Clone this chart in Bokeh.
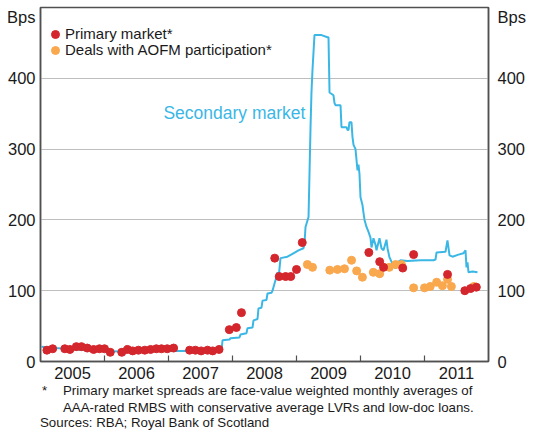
from bokeh.plotting import figure
from bokeh.models import FixedTicker, LinearAxis, Range1d, Legend, LegendItem, Label, Div
from bokeh.layouts import column
from bokeh.embed import file_html
from bokeh.resources import INLINE

# ---------------- data ----------------
years = [2005, 2006, 2007, 2008, 2009, 2010, 2011]
y_ticks = [0, 100, 200, 300, 400]
grid_ticks = [100, 200, 300, 400]
unit_label = "Bps"

# Primary market spreads (bps), time in decimal years
primary_t = [2005.10, 2005.19, 2005.38, 2005.46, 2005.56, 2005.64, 2005.73, 2005.83, 2005.92, 2006.00,
             2006.09, 2006.27, 2006.36, 2006.44, 2006.53, 2006.63, 2006.72, 2006.81, 2006.89, 2006.98,
             2007.08, 2007.33, 2007.42, 2007.51, 2007.61, 2007.69, 2007.79, 2007.95, 2008.06, 2008.14,
             2008.66, 2008.73, 2008.83, 2008.91, 2009.00, 2009.09, 2010.13, 2010.30, 2010.36, 2010.66,
             2010.83, 2011.36, 2011.63, 2011.72, 2011.81]
primary_bps = [16, 18, 18, 17, 21, 21, 19, 17, 18, 18,
               13, 13, 17, 15, 16, 16, 17, 18, 18, 18,
               19, 16, 16, 15, 16, 15, 17, 45, 48, 69,
               146, 120, 120, 120, 130, 168, 154, 141, 133, 132,
               151, 123, 100, 103, 105]

# Deals with AOFM participation (bps)
aofm_t = [2009.17, 2009.25, 2009.52, 2009.64, 2009.75, 2009.86, 2009.94, 2010.03, 2010.20, 2010.30,
          2010.45, 2010.55, 2010.64, 2010.83, 2011.00, 2011.09, 2011.19, 2011.28, 2011.36, 2011.42,
          2011.77]
aofm_bps = [137, 133, 129, 130, 131, 143, 128, 119, 126, 124,
            133, 137, 137, 104, 104, 106, 112, 107, 116, 106,
            106]

# Secondary market spreads (bps)
secondary_t = [2005.016, 2005.234, 2005.547, 2005.938, 2006.250, 2006.875, 2007.266, 2007.828, 2007.844, 2007.953,
               2007.969, 2008.109, 2008.125, 2008.219, 2008.234, 2008.313, 2008.328, 2008.391, 2008.406, 2008.453,
               2008.469, 2008.531, 2008.547, 2008.609, 2008.625, 2008.672, 2008.703, 2008.719, 2008.750, 2008.859,
               2008.938, 2009.031, 2009.109, 2009.125, 2009.141, 2009.188, 2009.219, 2009.234, 2009.250, 2009.281,
               2009.391, 2009.484, 2009.500, 2009.516, 2009.578, 2009.594, 2009.609, 2009.688, 2009.703, 2009.781,
               2009.797, 2009.813, 2009.828, 2009.859, 2009.875, 2009.891, 2009.922, 2009.953, 2009.969, 2009.984,
               2010.000, 2010.031, 2010.047, 2010.063, 2010.094, 2010.125, 2010.156, 2010.172, 2010.203, 2010.234,
               2010.250, 2010.297, 2010.328, 2010.359, 2010.406, 2010.422, 2010.453, 2010.500, 2010.531, 2010.547,
               2010.578, 2010.625, 2010.734, 2010.938, 2011.141, 2011.172, 2011.188, 2011.328, 2011.359, 2011.391,
               2011.438, 2011.531, 2011.609, 2011.641, 2011.656, 2011.672, 2011.688, 2011.750, 2011.828]
secondary_bps = [21, 19, 17, 15, 14, 15, 15, 15, 30, 31,
                 33, 34, 38, 40, 47, 48, 58, 60, 75, 76,
                 86, 87, 96, 97, 100, 115, 126, 117, 146, 148,
                 152, 157, 160, 167, 190, 204, 330, 380, 412, 461,
                 461, 458, 458, 380, 376, 365, 362, 362, 331, 331,
                 327, 327, 338, 338, 317, 306, 300, 270, 278, 265,
                 232, 221, 210, 200, 190, 183, 175, 161, 174, 165,
                 157, 174, 160, 157, 172, 160, 147, 138, 136, 131,
                 140, 143, 142, 143, 143, 144, 154, 155, 171, 150,
                 148, 151, 153, 157, 133, 140, 126, 127, 126]

# ---------------- style ----------------
FONT = "Liberation Sans"
RED = "#D4262D"
ORANGE = "#F9A84E"
BLUE = "#3BB7E6"
TEXT = "#1a1a1a"
AXIS = "#505050"
GRID = "#BEBEBE"

p = figure(width=545, height=385, output_backend="svg", toolbar_location=None,
           x_range=Range1d(years[0], years[-1] + 1), y_range=Range1d(0, 500),
           min_border_left=40, min_border_right=57, min_border_top=7, min_border_bottom=24)
p.background_fill_color = "white"
p.border_fill_color = "white"
p.outline_line_color = AXIS
p.outline_line_width = 1.5

# x axis: year labels centred in each year, ticks at year boundaries
p.xaxis.ticker = FixedTicker(ticks=[y + 0.5 for y in years], minor_ticks=years[1:])
p.xaxis.major_label_overrides = {y + 0.5: str(y) for y in years}
p.xaxis.major_tick_line_color = None
p.xaxis.major_tick_in = 0
p.xaxis.major_tick_out = 0
p.xaxis.minor_tick_in = 6
p.xaxis.minor_tick_out = 0
p.xaxis.minor_tick_line_color = AXIS
p.xaxis.minor_tick_line_width = 1.2
p.xaxis.axis_line_color = AXIS
p.xaxis.axis_line_width = 1.5
p.xaxis.major_label_text_font = FONT
p.xaxis.major_label_text_font_size = "16.5px"
p.xaxis.major_label_text_color = TEXT
p.xaxis.major_label_standoff = 5

# y axes (left and right); the unit label sits as an extra tick near the top
unit_pos = 486
right_axis = LinearAxis()
p.add_layout(right_axis, "right")
for ax, standoff in ((p.yaxis[0], 5), (right_axis, 9)):
    ax.ticker = FixedTicker(ticks=y_ticks + [unit_pos])
    ax.major_label_overrides = {unit_pos: unit_label}
    ax.major_tick_line_color = None
    ax.minor_tick_line_color = None
    ax.major_tick_in = 0
    ax.major_tick_out = 0
    ax.axis_line_color = AXIS
    ax.axis_line_width = 1.5
    ax.major_label_text_font = FONT
    ax.major_label_text_font_size = "16.5px"
    ax.major_label_text_color = TEXT
    ax.major_label_standoff = standoff

p.xgrid.visible = False
p.ygrid.ticker = FixedTicker(ticks=grid_ticks)
p.ygrid.grid_line_color = GRID
p.ygrid.grid_line_width = 1

# ---------------- data renderers ----------------
p.line(secondary_t, secondary_bps, line_color=BLUE, line_width=2)
r_aofm = p.scatter(aofm_t, aofm_bps, size=8, fill_color=ORANGE, line_color=ORANGE)
r_prim = p.scatter(primary_t, primary_bps, size=8, fill_color=RED, line_color=RED)

frame_h = 354
for label, rend, row_center in (("Primary market*", r_prim, 26.5),
                                ("Deals with AOFM participation*", r_aofm, 42.5)):
    lg = Legend(items=[LegendItem(label=label, renderers=[rend])],
                location=(5, frame_h - row_center - 10), padding=0, margin=0, spacing=0,
                glyph_width=20, glyph_height=20, label_height=15, label_standoff=0,
                label_text_font=FONT, label_text_font_size="15px", label_text_color=TEXT,
                background_fill_alpha=0, border_line_color=None)
    p.add_layout(lg)

p.add_layout(Label(x=2006.92, y=351, text="Secondary market", text_font=FONT,
                   text_font_size="17.5px", text_color=BLUE, text_align="left",
                   text_baseline="middle"))

# ---------------- footnote ----------------
note_style = "position:absolute;white-space:nowrap;line-height:15px;"
note_html = (
    "<div style=\"position:relative;width:545px;height:45px;font-family:'Liberation Sans',Arial,sans-serif;"
    "font-size:13.3px;color:#1a1a1a;\">"
    f"<div style=\"{note_style}left:42px;top:-2px;\">*</div>"
    f"<div style=\"{note_style}left:63px;top:-2px;\">Primary market spreads are face-value weighted monthly averages of</div>"
    f"<div style=\"{note_style}left:63px;top:15px;\">AAA-rated RMBS with conservative average LVRs and low-doc loans.</div>"
    f"<div style=\"{note_style}left:40px;top:30px;\">Sources: RBA; Royal Bank of Scotland</div>"
    "</div>"
)
note = Div(text=note_html, width=545, height=45, margin=(0, 0, 0, 0))

layout = column(p, note, spacing=0)
open("out.html", "w").write(file_html(layout, INLINE))
